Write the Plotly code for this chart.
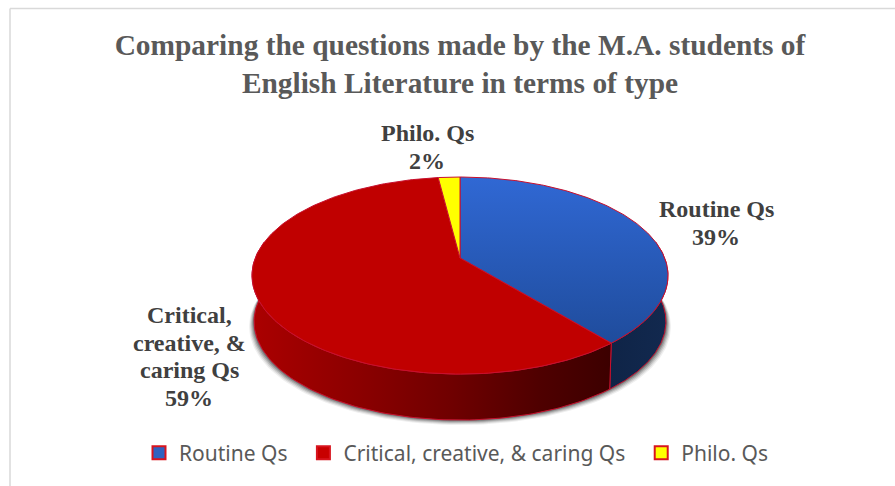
import numpy as np
import plotly.graph_objects as go

labels = ["Routine Qs\u00a0\u00a0", "Critical, creative, & caring Qs\u00a0\u00a0", "Philo. Qs"]
label_lines = [["Routine Qs"], ["Critical,", "creative, &", "caring Qs"], ["Philo. Qs"]]
values = [39, 59, 2]
title_text = ("<b>Comparing the questions made by the M.A. students of<br>"
              "English Literature in terms of type</b>")

top_scales = [
    [[0, "#1f4c9c"], [1, "#3068d4"]],
    [[0, "#c00000"], [1, "#c00000"]],
    [[0, "#ffff00"], [1, "#ffff00"]],
]
side_scales = [
    [[0, "#0f2447"], [1, "#12294f"]],
    [[0, "#ab0000"], [0.25, "#900000"], [0.55, "#700000"], [0.8, "#4f0000"], [1, "#3c0000"]],
    [[0, "#999900"], [1, "#999900"]],
]
legend_fill = ["#2f62c0", "#c80000", "#ffff00"]
EDGE = "#c8102e"

# projected disc geometry in pixel space
CX, CY = 460.0, 258.0
B, A, K = 204.7, 95.4, 0.178
DEPTH = 46.0
SHRINK = 0.99
LINE_STEP = 27.7


def project(theta):
    u, v = np.sin(theta), np.cos(theta)
    d = 1 + K * v
    return CX + B * u / d, CY - A * v / d


def dropped(theta):
    x, y = project(theta)
    return CX + (x - CX) * SHRINK, y + DEPTH


fractions = np.array(values) / sum(values)
edges = np.concatenate([[0], np.cumsum(fractions)]) * 2 * np.pi

fig = go.Figure()

# soft shadow under the disc
full = np.linspace(0, 2 * np.pi, 240)
for off, alpha in [(5, 0.08), (4, 0.12), (3, 0.18), (2, 0.25), (1, 0.35)]:
    sx, sy = dropped(full)
    fig.add_trace(go.Scatter(x=CX + (sx - CX) * (1 + off / 208), y=sy + off, mode="lines", fill="toself",
                             fillcolor=f"rgba(50,50,50,{alpha})", line=dict(width=0),
                             showlegend=False, hoverinfo="skip"))

# side wall (only the front-facing part), then top faces
for i in range(len(values)):
    lo, hi = max(edges[i], np.pi / 2 - 0.17), min(edges[i + 1], 3 * np.pi / 2 + 0.17)
    if hi > lo:
        th = np.linspace(lo, hi, 120)
        x1, y1 = project(th)
        x2, y2 = dropped(th)
        fig.add_trace(go.Scatter(
            x=np.concatenate([x1, x2[::-1], x1[:1]]),
            y=np.concatenate([y1, y2[::-1], y1[:1]]),
            mode="lines", fill="toself",
            fillgradient=dict(type="horizontal", colorscale=side_scales[i]),
            line=dict(color=EDGE, width=1), showlegend=False, hoverinfo="skip"))

for i in range(len(values)):
    th = np.linspace(edges[i], edges[i + 1], 200)
    x, y = project(th)
    fig.add_trace(go.Scatter(
        x=np.concatenate([[CX], x, [CX]]),
        y=np.concatenate([[CY], y, [CY]]),
        mode="lines", fill="toself",
        fillgradient=dict(type="vertical", colorscale=top_scales[i]),
        line=dict(color=EDGE, width=1), showlegend=False, hoverinfo="skip"))

# legend entries
for name, col in zip(labels, legend_fill):
    fig.add_trace(go.Scatter(x=[None], y=[None], mode="markers", name=name,
                             marker=dict(symbol="square", size=13, color=col,
                                         line=dict(color="#d8141e", width=2))))

# data labels, one text line per annotation so the tight line pitch is kept
label_pos = [(716, 209), (189, 315), (427, 133)]
for lines, val, (lx, ly) in zip(label_lines, values, label_pos):
    for j, line in enumerate(lines + [f"{val}%"]):
        fig.add_annotation(x=lx, y=ly + j * LINE_STEP, text=f"<b>{line}</b>", showarrow=False,
                           xanchor="center", yanchor="middle", align="center",
                           font=dict(family="Liberation Serif", size=24, color="#404040"))

# chart frame
fig.add_shape(type="line", x0=10, x1=895, y0=8.5, y1=8.5, line=dict(color="#d9d9d9", width=1.5))
fig.add_shape(type="line", x0=10, x1=10, y0=8.5, y1=486, line=dict(color="#d9d9d9", width=1.5))

fig.update_layout(
    width=895, height=486, margin=dict(l=0, r=0, t=0, b=0),
    paper_bgcolor="white", plot_bgcolor="white",
    xaxis=dict(range=[0, 895], visible=False, fixedrange=True),
    yaxis=dict(range=[486, 0], visible=False, fixedrange=True),
    title=dict(text=title_text, x=460 / 895, xanchor="center", y=1 - 55 / 486, yanchor="middle",
               font=dict(family="Liberation Serif", size=29.4, color="#595959")),
    legend=dict(orientation="h", x=456 / 895, xanchor="center", y=1 - 453 / 486, yanchor="middle",
                font=dict(family="Noto Sans", size=21, color="#595959"),
                itemwidth=30, bgcolor="rgba(0,0,0,0)"),
)

fig.write_html("out.html", config={"displayModeBar": False},
               post_script="document.body.style.margin='0';document.body.style.overflow='hidden';")
